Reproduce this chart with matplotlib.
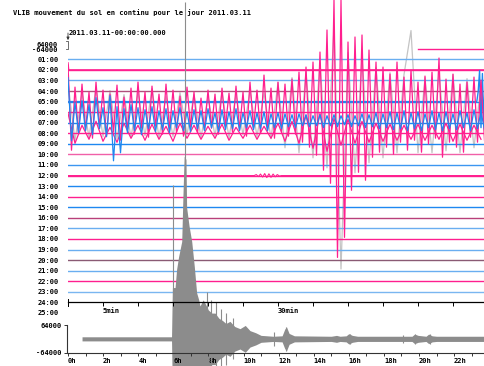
import matplotlib.pyplot as plt
import numpy as np

# ---------------- data ----------------
# helicorder rows (one trace per hour), amplitudes in kcounts
hour_labels = ['%02d:00' % h for h in range(1, 26)]
row_colors = ['#ff1f8f', '#6aaef0', '#ff1f8f', '#6aaef0', '#b0507c', '#1e88f0',
              '#ff1f8f', '#1e88f0', '#ff1f8f', '#1e88f0', '#f060a8', '#3c96f0',
              '#ff1f8f', '#1e88f0', '#ff1f8f', '#1e88f0', '#b8407a', '#6aaef0',
              '#ff1f8f', '#6aaef0', '#8a5a74', '#6aaef0', '#ff1f8f', '#7ab6f0']
KC_PER_ROW = 211  # trace spacing

# hour 06 (surface waves), one sample every 0.5 min
row06_kc = [940, -760, 500, -440, 560, -360, 400, -520, 600, -300,
            440, -480, 360, -400, 540, -560, 300, -360, 480, -440,
            600, -320, 400, -500, 520, -280, 360, -440, 560, -360,
            440, -400, 320, -480, 500, -300, 400, -420, 280, -360,
            440, -320, 360, -440, 480, -280, 380, -400, 520, -360,
            400, -480, 600, -320, 440, -420, 740, -360, 480, -520,
            600, -400, 560, -480, 660, -440, 800, -600, 900, -700,
            1000, -860, 1200, -1160, 1640, -1420, 2240, -2900, 2240, -2500,
            1400, -1560, 1500, -1200, 1540, -1360, 1240, -900, 1000, -800,
            900, -700, 760, -840, 1000, -600, 700, -760, 840, -560,
            600, -800, 720, -640, 800, -520, 1080, -900, 660, -600,
            760, -700, 560, -800, 600, -500, 700, -600, 640, -560]

# hour 07, one sample every 0.5 min
row07_kc = [900, -360, 400, -200, 440, -160, 360, -240, 500, -120,
            300, -280, 540, -760, 320, -600, 280, -200, 360, -160,
            300, -240, 260, -120, 320, -180, 240, -140, 280, -200,
            240, -100, 300, -160, 220, -180, 260, -120, 240, -160,
            280, -100, 200, -180, 260, -140, 220, -120, 280, -160,
            200, -100, 240, -140, 200, -120, 220, -160, 180, -100,
            200, -120, 180, -80, 160, -100, 180, -60, 160, -80,
            140, -60, 160, -100, 140, -60, 160, -80, 140, -40,
            160, -80, 140, -60, 180, -100, 160, -80, 200, -120,
            180, -100, 220, -140, 200, -120, 240, -160, 200, -120,
            220, -160, 180, -100, 240, -140, 200, -160, 220, -120,
            180, -140, 240, -100, 200, -160, 260, -120, 220, -140]

# hour 08, one sample every minute
row08_kc = [400, -200, 160, -120, 240, -160, 120, -180, 200, -100,
            160, -140, 180, -120, 140, -160, 200, -100, 160, -120,
            140, -100, 180, -140, 120, -100, 160, -120, 140, -100,
            200, -160, 240, -200, 360, -300, 400, -360, 300, -240,
            280, -200, 240, -180, 200, -160, 180, -140, 160, -120,
            180, -140, 160, -120, 200, -160, 180, -140, 160, -120]

# clipped (gray) copy behind hour 07, one sample every minute
shadow_kc = [800, -360, 600, -300, 700, -280, 640, -320, 560, -300,
             600, -260, 680, -300, 520, -280, 600, -240, 560, -300,
             520, -260, 600, -300, 560, -240, 640, -280, 600, -320,
             800, -500, 900, -600, 1000, -700, 1200, -900, 1900, -2920,
             1400, -1000, 1300, -800, 1100, -700, 1000, -600, 960, 1840,
             -600, 900, -600, 1000, -560, 960, -600, 880, -500, 800]

# P arrival at the end of hour 05
row05_t = [0, 58.4, 58.6, 58.8, 59.0, 59.2, 59.4, 59.6]
row05_kc = [0, 0, 200, 620, -520, 560, -480, 500]

# small local event in hour 12
row12_t = [0, 26.6, 26.9, 27.2, 27.5, 27.8, 28.1, 28.4, 28.7, 29.0, 29.3, 29.6, 29.9, 30.2, 30.5, 59.6]
row12_kc = [0, 0, 20, -20, 30, -30, 40, -40, 35, -35, 30, -25, 20, -10, 0, 0]

row02_t = [0, 0.1, 0.3, 59.6]
row02_kc = [140, 0, 0, 0]

row00_start = 50.0  # hour 00 trace begins here (min)

# 24 h overview, kcounts
over_h = [0.8, 5.9, 5.95, 6.1, 6.19, 6.3, 6.48, 6.55, 6.62, 6.72, 6.76, 6.9, 7.05,
          7.2, 7.33, 7.45, 7.52, 7.7, 7.8, 8.0, 8.2, 8.38, 8.6, 8.8, 9.0, 9.23,
          9.5, 9.8, 10.1, 10.37, 10.7, 11.0, 11.7, 12.2, 12.35, 12.45, 12.6, 12.9,
          15.0, 15.3, 15.5, 15.85, 16.0, 16.2, 16.5, 19.6, 19.75, 19.95, 20.4,
          20.55, 20.75, 21.0, 24.0]
over_kc = [9.5, 9.5, 237, 237, 322, 379, 450, 664, 844, 830, 607, 521, 450,
           332, 213, 180, 152, 180, 166, 133, 119, 119, 95, 85, 71, 81,
           57, 47, 62, 38, 28, 16, 12, 14, 45, 55, 25, 14,
           12, 16, 12, 14, 24, 16, 12, 12, 22, 16, 12,
           22, 14, 12, 12]
spike_h = [5.97, 6.67, 7.9, 8.15, 8.45, 8.7, 9.0, 9.4, 11.75, 12.45, 16.05, 19.1, 19.8, 20.6]
spike_kc = [711, 1555, 218, 180, 170, 140, 120, 95, 33, 57, 24, 19, 24, 24]

hour_ticks = list(range(0, 24, 2))
minute_ticks = list(range(0, 60, 5))

# ---------------- figure ----------------
mono = dict(family='DejaVu Sans Mono', weight='bold', size=5)
fig = plt.figure(figsize=(4.85, 3.66), dpi=100)

ax = fig.add_axes([68 / 485, 0, 417 / 485, 1])
ax.set_xlim(0, 417 / 7)
ax.set_ylim(30.016, -4.610)
for s in ax.spines.values():
    s.set_visible(False)
ax.set_xticks([])
ax.set_yticks(range(1, 26))
ax.set_yticklabels(hour_labels, fontdict=mono)
ax.tick_params(axis='y', length=0, pad=6.8)

def row_y(row, vals):
    return row + np.asarray(vals, dtype=float) * -1 / KC_PER_ROW

t_half = np.arange(len(row06_kc)) * 0.5
t_min = np.arange(len(row08_kc)) * 1.0

# gray shadow first
ax.plot(t_min, row_y(7, shadow_kc), color='#c4c4c4', lw=0.9, zorder=1)

# baselines of every hour
for k in range(1, 24):
    ax.plot([0, 60], [k, k], color=row_colors[k], lw=1.0, zorder=2)
ax.plot([row00_start, 60], [0, 0], color=row_colors[0], lw=1.0, zorder=2)

ax.plot(row02_t, row_y(2, row02_kc), color=row_colors[2], lw=1.0, zorder=3)
ax.plot(row05_t, row_y(5, row05_kc), color=row_colors[5], lw=1.0, zorder=3)
ax.plot(row12_t, row_y(12, row12_kc), color=row_colors[12], lw=0.8, zorder=3)
ax.plot(t_half, row_y(6, row06_kc), color=row_colors[6], lw=0.9, zorder=3)
ax.plot(t_min, row_y(8, row08_kc), color=row_colors[8], lw=0.9, zorder=3)
ax.plot(t_half, row_y(7, row07_kc), color=row_colors[7], lw=0.9, zorder=4)

ax.text(5, 24.78, '5min', va='center', ha='left', **mono)
ax.text(30, 24.78, '30min', va='center', ha='left', **mono)

# header
fig.text(12.7 / 485, 1 - 12.7 / 366, 'VLIB mouvement du sol en continu pour le jour 2011.03.11',
         va='center', ha='left', **mono)
fig.text(68.3 / 485, 1 - 33.3 / 366, '2011.03.11-00:00:00.000', va='center', ha='left', **mono)
ax.annotate('', xy=(0, -0.55), xytext=(0, -1.75),
            arrowprops=dict(arrowstyle='-|>', color='#333333', lw=0.6, mutation_scale=4),
            annotation_clip=False)
fig.text(57.5 / 485, 1 - 45 / 366, '64000', va='center', ha='right', **mono)
fig.text(57.5 / 485, 1 - 49.5 / 366, '-64000', va='center', ha='right', **mono)
ax.plot([-0.25, -0.05, -0.05, -0.25], [-0.7, -0.7, 0.0, 0.0], color='#555555', lw=0.6,
        clip_on=False)

# ---------------- 24 h overview ----------------
axo = fig.add_axes([68 / 485, (366 - 352.7) / 366, 417 / 485, 27.7 / 366])
axo.set_facecolor('none')
axo.set_xlim(0, 417 / 17.55)
axo.set_ylim(-64, 64)
axo.fill_between(over_h, [-v for v in over_kc], over_kc, color='#8c8c8c', lw=0,
                 clip_on=False)
axo.vlines(spike_h, [-v for v in spike_kc], spike_kc, color='#8c8c8c', lw=0.8,
           clip_on=False)

axo.spines['top'].set_visible(False)
axo.spines['right'].set_visible(False)
axo.spines['left'].set_position(('outward', 1))
for s in ('left', 'bottom'):
    axo.spines[s].set_linewidth(0.8)
    axo.spines[s].set_color('#333333')
axo.set_xticks(hour_ticks)
axo.set_xticklabels(['%dh' % h for h in hour_ticks], fontdict=mono)
for lab in axo.get_xticklabels():
    lab.set_ha('left')
axo.set_xticks(range(0, 24), minor=True)
axo.set_yticks([-64, 64])
axo.set_yticklabels(['-64000', '64000'], fontdict=mono)
axo.tick_params(which='both', direction='out', length=2.2, width=0.7, pad=1.5, color='#333333')

# helicorder time axis (24:00 row), drawn above the overview
axo.plot([0, 60], [24, 24], color='black', lw=0.9, transform=ax.transData, clip_on=False)
axo.vlines(minute_ticks, 24, 24.38, color='black', lw=0.7, transform=ax.transData,
           clip_on=False)
axo.plot([0, 0], [23.7, 24.38], color='black', lw=0.7, transform=ax.transData, clip_on=False)

fig.savefig('out.png', dpi=100)
